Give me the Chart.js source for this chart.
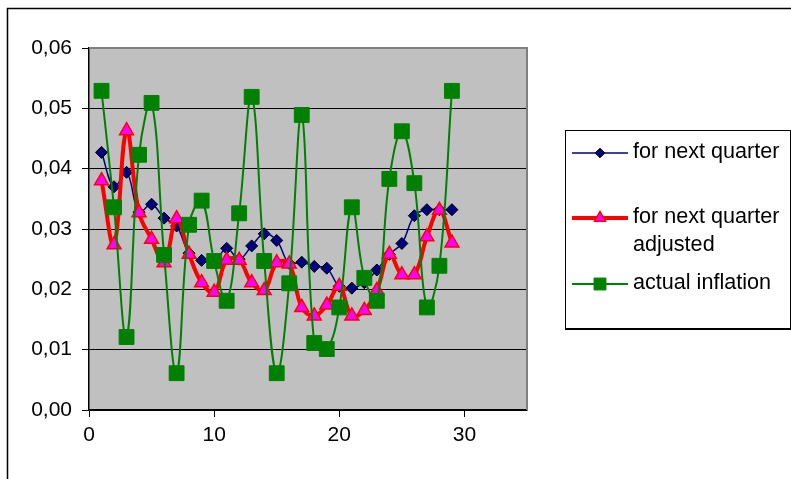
<!DOCTYPE html>
<html lang="en">
<head>
    <meta charset="UTF-8">
    <title>Inflation expectations</title>
    <script src="https://cdn.jsdelivr.net/npm/chart.js"></script>
    <style>
        body { margin: 0; background: #fff; }
        #wrap { position: relative; width: 791px; height: 479px; }
        #legend {
            position: absolute; left: 565px; top: 130px; width: 224px; height: 197px;
            border: 1px solid #000; border-bottom-width: 2px;
            font-family: "Liberation Sans", Arial, sans-serif; font-size: 21.6px; color: #000;
        }
        .item { position: absolute; left: 6px; display: flex; align-items: flex-start; }
        .item canvas { flex: none; }
        .item span { margin-left: 5px; line-height: 28px; position: relative; top: -2px; }
    </style>
</head>
<body>
    <div id="wrap">
        <canvas id="chart" width="791" height="479"></canvas>
        <div id="legend"></div>
    </div>

    <script>
        const quarter = [1, 2, 3, 4, 5, 6, 7, 8, 9, 10, 11, 12, 13, 14, 15, 16, 17, 18, 19, 20, 21, 22, 23, 24, 25, 26, 27, 28, 29];
        const forNextQuarter = [0.0427, 0.0370, 0.0394, 0.0328, 0.0341, 0.0318, 0.0305, 0.0260, 0.0248, 0.0245,
            0.0268, 0.0250, 0.0272, 0.0292, 0.0281, 0.0243, 0.0245, 0.0238, 0.0235, 0.0205,
            0.0202, 0.0211, 0.0232, 0.0258, 0.0276, 0.0322, 0.0332, 0.0332, 0.0332];
        const forNextQuarterAdjusted = [0.0380, 0.0274, 0.0463, 0.0327, 0.0283, 0.0244, 0.0317, 0.0258, 0.0211, 0.0195,
            0.0248, 0.0248, 0.0211, 0.0198, 0.0244, 0.0242, 0.0170, 0.0156, 0.0174, 0.0205,
            0.0156, 0.0165, 0.0198, 0.0258, 0.0224, 0.0224, 0.0287, 0.0331, 0.0277];
        const actualInflation = [0.0529, 0.0336, 0.0121, 0.0423, 0.0509, 0.0257, 0.0061, 0.0307, 0.0347, 0.0247,
            0.0181, 0.0326, 0.0519, 0.0247, 0.0061, 0.0210, 0.0489, 0.0111, 0.0101, 0.0170,
            0.0336, 0.0219, 0.0181, 0.0383, 0.0462, 0.0376, 0.0170, 0.0239, 0.0529];
        const xTicks = [0, 10, 20, 30];

        const font = { family: '"Liberation Sans", Arial, sans-serif', size: 21 };

        function toPoints(values) {
            return values.map((v, i) => ({ x: quarter[i], y: v }));
        }

        const series = [
            { label: 'for next quarter', data: forNextQuarter, line: '#000080', width: 1.5,
              style: 'rectRot', radius: 6, fill: '#000080', stroke: '#000000', bw: 1, order: 2 },
            { label: 'for next quarter\nadjusted', data: forNextQuarterAdjusted, line: '#FF0000', width: 4,
              style: 'triangle', radius: 8, fill: '#FF00FF', stroke: '#FF0000', bw: 1.5, order: 1 },
            { label: 'actual inflation', data: actualInflation, line: '#008000', width: 2,
              style: 'rect', radius: 10.5, fill: '#008000', stroke: '#008000', bw: 1, order: 0 }
        ];

        // gray plot area, its border and the outer frame
        const frame = {
            id: 'frame',
            beforeDraw(chart) {
                const { ctx, chartArea: a } = chart;
                ctx.save();
                ctx.fillStyle = '#C0C0C0';
                ctx.fillRect(a.left, a.top, a.right - a.left, a.bottom - a.top);
                ctx.restore();
            },
            afterDraw(chart) {
                const { ctx, chartArea: a } = chart;
                ctx.save();
                ctx.strokeStyle = '#808080';
                ctx.lineWidth = 2;
                ctx.beginPath();
                ctx.moveTo(a.left, a.top);
                ctx.lineTo(a.right, a.top);
                ctx.lineTo(a.right, a.bottom);
                ctx.stroke();
                ctx.strokeStyle = '#000';
                ctx.lineWidth = 1.5;
                ctx.beginPath();
                ctx.moveTo(7.5, 479);
                ctx.lineTo(7.5, 8.5);
                ctx.lineTo(791, 8.5);
                ctx.stroke();
                ctx.restore();
            }
        };

        new Chart(document.getElementById('chart'), {
            type: 'line',
            data: {
                datasets: series.map(s => ({
                    label: s.label,
                    data: toPoints(s.data),
                    borderColor: s.line,
                    borderWidth: s.width,
                    pointStyle: s.style,
                    pointRadius: s.radius,
                    pointBackgroundColor: s.fill,
                    pointBorderColor: s.stroke,
                    pointBorderWidth: s.bw,
                    tension: 0.4,
                    fill: false,
                    order: s.order
                }))
            },
            options: {
                responsive: false,
                animation: false,
                layout: { padding: { left: 8, top: 48, right: 264, bottom: 0 } },
                plugins: { legend: { display: false }, tooltip: { enabled: false } },
                scales: {
                    x: {
                        type: 'linear',
                        min: 0,
                        max: 35,
                        afterBuildTicks: scale => {
                            scale.ticks = xTicks.map(v => ({ value: v }));
                        },
                        afterFit: scale => { scale.height = 69; },
                        ticks: { color: '#000', font: font, padding: 6, maxRotation: 0 },
                        grid: { drawOnChartArea: false, tickLength: 7, tickColor: '#000', lineWidth: 1 },
                        border: { color: '#000', width: 1.5 }
                    },
                    y: {
                        min: 0,
                        max: 0.06,
                        afterFit: scale => { scale.width = 81; },
                        ticks: {
                            stepSize: 0.01,
                            color: '#000',
                            font: font,
                            padding: 10,
                            callback: v => v.toFixed(2).replace('.', ',')
                        },
                        grid: {
                            color: c => (c.tick && c.tick.value > 0.0599) ? 'rgba(0,0,0,0)' : '#000',
                            tickColor: '#000',
                            tickLength: 7,
                            lineWidth: 1
                        },
                        border: { color: '#000', width: 1.5 }
                    }
                }
            },
            plugins: [frame]
        });

        // legend: line sample with a slightly smaller marker, then label (tops are inside the legend box)
        const rowTops = [8, 73, 139];
        const legend = document.getElementById('legend');
        series.forEach((s, i) => {
            const item = document.createElement('div');
            item.className = 'item';
            item.style.top = rowTops[i] + 'px';
            const c = document.createElement('canvas');
            c.width = 56; c.height = 28;
            const g = c.getContext('2d');
            g.strokeStyle = s.line;
            g.lineWidth = s.width;
            g.beginPath();
            g.moveTo(0, 14); g.lineTo(56, 14);
            g.stroke();
            g.fillStyle = s.fill;
            g.strokeStyle = s.stroke;
            g.lineWidth = s.bw;
            const cx = 28, cy = 14, r = s.radius * 0.8;
            g.beginPath();
            if (s.style === 'rectRot') {
                g.moveTo(cx, cy - r); g.lineTo(cx + r, cy); g.lineTo(cx, cy + r); g.lineTo(cx - r, cy);
            } else if (s.style === 'triangle') {
                g.moveTo(cx, cy - r);
                g.lineTo(cx + r * 0.866, cy + r * 0.5);
                g.lineTo(cx - r * 0.866, cy + r * 0.5);
            } else {
                const h = r / Math.SQRT2;
                g.rect(cx - h, cy - h, 2 * h, 2 * h);
            }
            g.closePath();
            g.fill();
            g.stroke();
            const span = document.createElement('span');
            span.innerHTML = s.label.replace('\n', '<br>');
            item.appendChild(c);
            item.appendChild(span);
            legend.appendChild(item);
        });
    </script>
</body>
</html>
